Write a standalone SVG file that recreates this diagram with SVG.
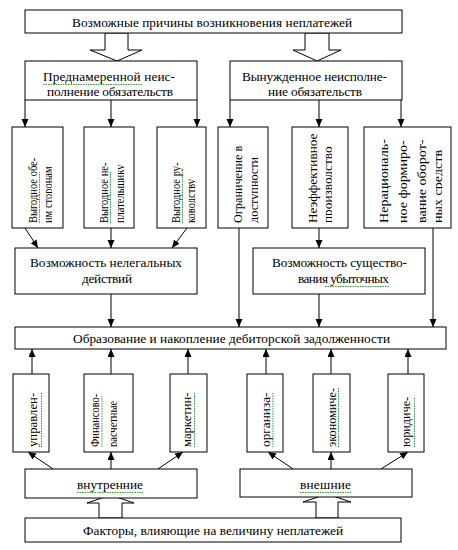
<svg xmlns="http://www.w3.org/2000/svg" width="458" height="550" viewBox="0 0 458 550">
<style>
.b{fill:#fff;stroke:#000;stroke-width:1}
.t{font-family:"Liberation Serif","Times New Roman",serif;font-size:13.3px;fill:#000}
.c{text-anchor:middle}
.l{fill:none;stroke:#000;stroke-width:1}
.h{fill:#fff;stroke:#000;stroke-width:1}
.g{fill:none;stroke:#3a9a3a;stroke-width:1;stroke-dasharray:1.5,1}
</style>
<defs>
<marker id="ah" markerUnits="userSpaceOnUse" markerWidth="9" markerHeight="8" refX="8" refY="3.5" orient="auto">
<path d="M0,0 L8,3.5 L0,7 z" fill="#000"/>
</marker>
<clipPath id="k1"><rect x="12" y="127" width="40" height="101"/></clipPath>
<clipPath id="k2"><rect x="84" y="127" width="40.5" height="101"/></clipPath>
<clipPath id="k3"><rect x="157" y="127" width="38.5" height="101"/></clipPath>
<clipPath id="k4"><rect x="218" y="127" width="40.5" height="101"/></clipPath>
<clipPath id="k5"><rect x="292" y="127" width="40" height="101"/></clipPath>
<clipPath id="k6"><rect x="364" y="127" width="78.5" height="101"/></clipPath>
<clipPath id="k8"><rect x="84" y="374" width="33" height="78"/></clipPath>
</defs>

<g id="connectors">
<polygon class="h" points="105,33 105,50 90,50 117,61 142,50 128,50 128,33"/>
<polygon class="h" points="305,33 305,50 293,50 317,61 341,50 329,50 329,33"/>
<polygon class="h" points="99,518 99,503 87,503 110.5,495 134,503 122,503 122,518"/>
<polygon class="h" points="316,518 316,502 303,502 327,494 351,502 338,502 338,518"/>
<g marker-end="url(#ah)">
<line class="l" x1="25" y1="100" x2="25" y2="127"/>
<line class="l" x1="111" y1="100" x2="111" y2="127"/>
<line class="l" x1="197" y1="100" x2="197" y2="127"/>
<line class="l" x1="230" y1="100" x2="230" y2="127"/>
<line class="l" x1="319" y1="100" x2="319" y2="127"/>
<line class="l" x1="401" y1="100" x2="401" y2="127"/>
<line class="l" x1="25" y1="228" x2="38" y2="248"/>
<line class="l" x1="111" y1="228" x2="111" y2="248"/>
<line class="l" x1="187" y1="228" x2="172" y2="248"/>
<line class="l" x1="239" y1="228" x2="239" y2="327"/>
<line class="l" x1="319" y1="228" x2="319" y2="248"/>
<line class="l" x1="433" y1="228" x2="433" y2="327"/>
<line class="l" x1="111" y1="294" x2="111" y2="327"/>
<line class="l" x1="319" y1="294" x2="319" y2="327"/>
<line class="l" x1="32" y1="374" x2="32" y2="349"/>
<line class="l" x1="111" y1="374" x2="111" y2="349"/>
<line class="l" x1="188" y1="374" x2="188" y2="349"/>
<line class="l" x1="266" y1="374" x2="266" y2="349"/>
<line class="l" x1="331" y1="374" x2="331" y2="349"/>
<line class="l" x1="408" y1="374" x2="408" y2="349"/>
<line class="l" x1="53" y1="469" x2="28" y2="452"/>
<line class="l" x1="111" y1="469" x2="111" y2="452"/>
<line class="l" x1="158" y1="469" x2="183" y2="452"/>
<line class="l" x1="293" y1="469" x2="268" y2="452"/>
<line class="l" x1="331" y1="469" x2="331" y2="452"/>
<line class="l" x1="381" y1="469" x2="408" y2="452"/>
</g>
</g>

<g id="n-title">
<rect class="b" x="25" y="10" width="377" height="23"/>
<text class="t c" x="212" y="27" textLength="280" lengthAdjust="spacing">Возможные причины возникновения неплатежей</text>
</g>

<g id="n-intent">
<rect class="b" x="25" y="61" width="172" height="39"/>
<text class="t c" x="109" y="81" textLength="132" lengthAdjust="spacing">Преднамеренной неис-</text>
<text class="t c" x="110" y="96" textLength="126" lengthAdjust="spacing">полнение обязательств</text>
<line class="g" x1="43" y1="84.5" x2="143" y2="84.5"/>
</g>

<g id="n-forced">
<rect class="b" x="230" y="61" width="172" height="39"/>
<text class="t c" x="314.5" y="81" textLength="145" lengthAdjust="spacing">Вынужденное неисполне-</text>
<text class="t c" x="315" y="96" textLength="94" lengthAdjust="spacing">ние обязательств</text>
</g>

<g id="n-v1">
<rect class="b" x="12" y="127" width="51" height="101"/>
<g clip-path="url(#k1)">
<text class="t" transform="translate(37,223) rotate(-90) scale(0.79,1)">Выгодное обе-</text>
<text class="t" transform="translate(51.5,223) rotate(-90) scale(0.79,1)">им сторонам</text>
</g>
<line class="g" x1="39.5" y1="223" x2="39.5" y2="172"/>
</g>

<g id="n-v2">
<rect class="b" x="84" y="127" width="50" height="101"/>
<g clip-path="url(#k2)">
<text class="t" transform="translate(108,223) rotate(-90) scale(0.79,1)">Выгодное не-</text>
<text class="t" transform="translate(124,223) rotate(-90) scale(0.79,1)">плательщику</text>
</g>
<line class="g" x1="110.5" y1="223" x2="110.5" y2="172"/>
</g>

<g id="n-v3">
<rect class="b" x="157" y="127" width="49" height="101"/>
<g clip-path="url(#k3)">
<text class="t" transform="translate(180,223) rotate(-90) scale(0.79,1)">Выгодное ру-</text>
<text class="t" transform="translate(195,223) rotate(-90) scale(0.79,1)">ководству</text>
</g>
<line class="g" x1="182.5" y1="223" x2="182.5" y2="172"/>
</g>

<g id="n-v4">
<rect class="b" x="218" y="127" width="50" height="101"/>
<g clip-path="url(#k4)">
<text class="t" transform="translate(242,223) rotate(-90) scale(0.92,1)">Ограничение в</text>
<text class="t" transform="translate(258,223) rotate(-90) scale(0.92,1)">доступности</text>
</g>
</g>

<g id="n-v5">
<rect class="b" x="292" y="127" width="56" height="101"/>
<g clip-path="url(#k5)">
<text class="t" transform="translate(317,223) rotate(-90)">Неэффективное</text>
<text class="t" transform="translate(332,223) rotate(-90)">производство</text>
</g>
</g>

<g id="n-v6">
<rect class="b" x="364" y="127" width="87" height="101"/>
<g clip-path="url(#k6)">
<text class="t" transform="translate(388,223) rotate(-90) scale(1.06,1)">Нерациональ-</text>
<text class="t" transform="translate(407,223) rotate(-90) scale(1.06,1)">ное формиро-</text>
<text class="t" transform="translate(426,223) rotate(-90) scale(1.06,1)">вание оборот-</text>
<text class="t" transform="translate(442,223) rotate(-90) scale(1.06,1)">ных средств</text>
</g>
</g>

<g id="n-illegal">
<rect class="b" x="15" y="248" width="182" height="46"/>
<text class="t c" x="106" y="267" textLength="152" lengthAdjust="spacing">Возможность нелегальных</text>
<text class="t c" x="107" y="283" textLength="50" lengthAdjust="spacing">действий</text>
</g>

<g id="n-loss">
<rect class="b" x="253" y="248" width="172" height="46"/>
<text class="t c" x="339.5" y="267" textLength="135" lengthAdjust="spacing">Возможность существо-</text>
<text class="t c" x="343.5" y="283" textLength="91" lengthAdjust="spacing">вания убыточных</text>
<line class="g" x1="325" y1="286.5" x2="389" y2="286.5"/>
</g>

<g id="n-debt">
<rect class="b" x="15" y="327" width="431" height="22"/>
<text class="t c" x="231.5" y="343" textLength="317" lengthAdjust="spacing">Образование и накопление дебиторской задолженности</text>
</g>

<g id="n-b1">
<rect class="b" x="13" y="374" width="36" height="78"/>
<text class="t" transform="translate(37,447) rotate(-90) scale(0.96,1)">управлен-</text>
<line class="g" x1="41.5" y1="447" x2="41.5" y2="393"/>
</g>

<g id="n-b2">
<rect class="b" x="84" y="374" width="49" height="78"/>
<g clip-path="url(#k8)">
<text class="t" transform="translate(99,447) rotate(-90) scale(0.79,1)">Финансово-</text>
<text class="t" transform="translate(116.5,447) rotate(-90) scale(0.79,1)">расчетные</text>
</g>
<line class="g" x1="102" y1="447" x2="102" y2="396"/>
</g>

<g id="n-b3">
<rect class="b" x="170" y="374" width="37" height="78"/>
<text class="t" transform="translate(191,447) rotate(-90) scale(0.95,1)">маркетин-</text>
<line class="g" x1="194.5" y1="447" x2="194.5" y2="392"/>
</g>

<g id="n-b4">
<rect class="b" x="247" y="374" width="36" height="78"/>
<text class="t" transform="translate(269.5,447) rotate(-90)">организа-</text>
<line class="g" x1="273" y1="447" x2="273" y2="392"/>
</g>

<g id="n-b5">
<rect class="b" x="313" y="374" width="37" height="78"/>
<text class="t" transform="translate(336,447) rotate(-90) scale(0.92,1)">экономиче-</text>
<line class="g" x1="338.5" y1="447" x2="338.5" y2="387"/>
</g>

<g id="n-b6">
<rect class="b" x="388" y="374" width="36" height="78"/>
<text class="t" transform="translate(410,447) rotate(-90) scale(0.92,1)">юридиче-</text>
<line class="g" x1="414.5" y1="447" x2="414.5" y2="397"/>
</g>

<g id="n-internal">
<rect class="b" x="25" y="469" width="172" height="29"/>
<text class="t c" x="110" y="489" textLength="66" lengthAdjust="spacing">внутренние</text>
<line class="g" x1="77" y1="492.5" x2="143" y2="492.5"/>
</g>

<g id="n-external">
<rect class="b" x="240" y="469" width="172" height="28"/>
<text class="t c" x="325.5" y="489" textLength="51" lengthAdjust="spacing">внешние</text>
<line class="g" x1="300" y1="492.5" x2="351" y2="492.5"/>
</g>

<g id="n-factors">
<rect class="b" x="25" y="518" width="376" height="24"/>
<text class="t c" x="213" y="535" textLength="260" lengthAdjust="spacing">Факторы, влияющие на величину неплатежей</text>
</g>
</svg>
